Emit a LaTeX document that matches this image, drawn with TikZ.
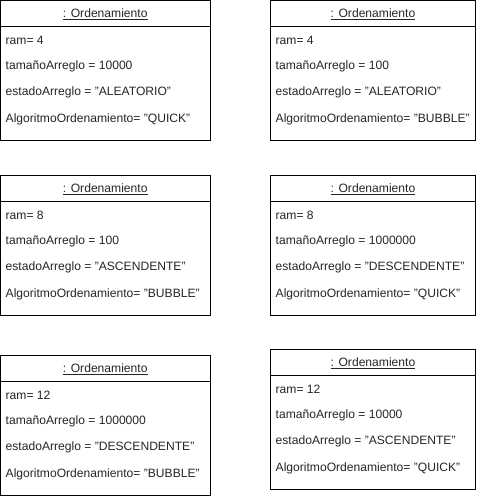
\documentclass[tikz,border=0pt]{standalone}
\usepackage{fontspec}
\setmainfont{Liberation Sans}
\newcommand\qq{\symbol{34}}
\newcommand\objbox[8]{% name, x, y, width, ram, tam, estado, alg
  \node[objframe, minimum width=#4pt] (#1) at (#2,#3) {};
  \coordinate (#1h) at ([yshift=-26pt]#1.north west);
  \draw[frameline] (#1h) -- (#1h -| #1.east);
  \node[objtitle] (#1t) at ([yshift=-14pt]#1.north) {\underline{: Ordenamiento}};
  \node[attr] (#1a) at ([xshift=5pt,yshift=-40pt]#1.north west) {ram= #5};
  \node[attr] (#1b) at ([xshift=5pt,yshift=-66pt]#1.north west) {tamañoArreglo = #6};
  \node[attr] (#1c) at ([xshift=5pt,yshift=-92pt]#1.north west) {estadoArreglo = \qq#7\qq};
  \node[attr] (#1d) at ([xshift=5pt,yshift=-119pt]#1.north west) {AlgoritmoOrdenamiento= \qq#8\qq};
}
\begin{document}
\begin{tikzpicture}[x=1pt,y=-1pt,
  objframe/.style={draw=black, line width=1pt, fill=white, anchor=north west, minimum height=140pt, inner sep=0pt, outer sep=0pt},
  frameline/.style={draw=black, line width=1pt},
  objtitle/.style={font=\fontsize{12.1}{14}\selectfont, text=black!85, inner sep=0pt},
  attr/.style={font=\fontsize{12.1}{14}\selectfont, text=black!85, anchor=west, inner sep=0pt}]
\useasboundingbox (0,0) rectangle (481,498);
\objbox{o1}{0.5}{0.5}{209.5}{4}{10000}{ALEATORIO}{QUICK}
\objbox{o2}{270.5}{0.5}{205}{4}{100}{ALEATORIO}{BUBBLE}
\objbox{o3}{0.5}{175}{209.5}{8}{100}{ASCENDENTE}{BUBBLE}
\objbox{o4}{270.5}{175}{205}{8}{1000000}{DESCENDENTE}{QUICK}
\objbox{o5}{0.5}{355}{209.5}{12}{1000000}{DESCENDENTE}{BUBBLE}
\objbox{o6}{270.5}{349}{205}{12}{10000}{ASCENDENTE}{QUICK}
\end{tikzpicture}
\end{document}
